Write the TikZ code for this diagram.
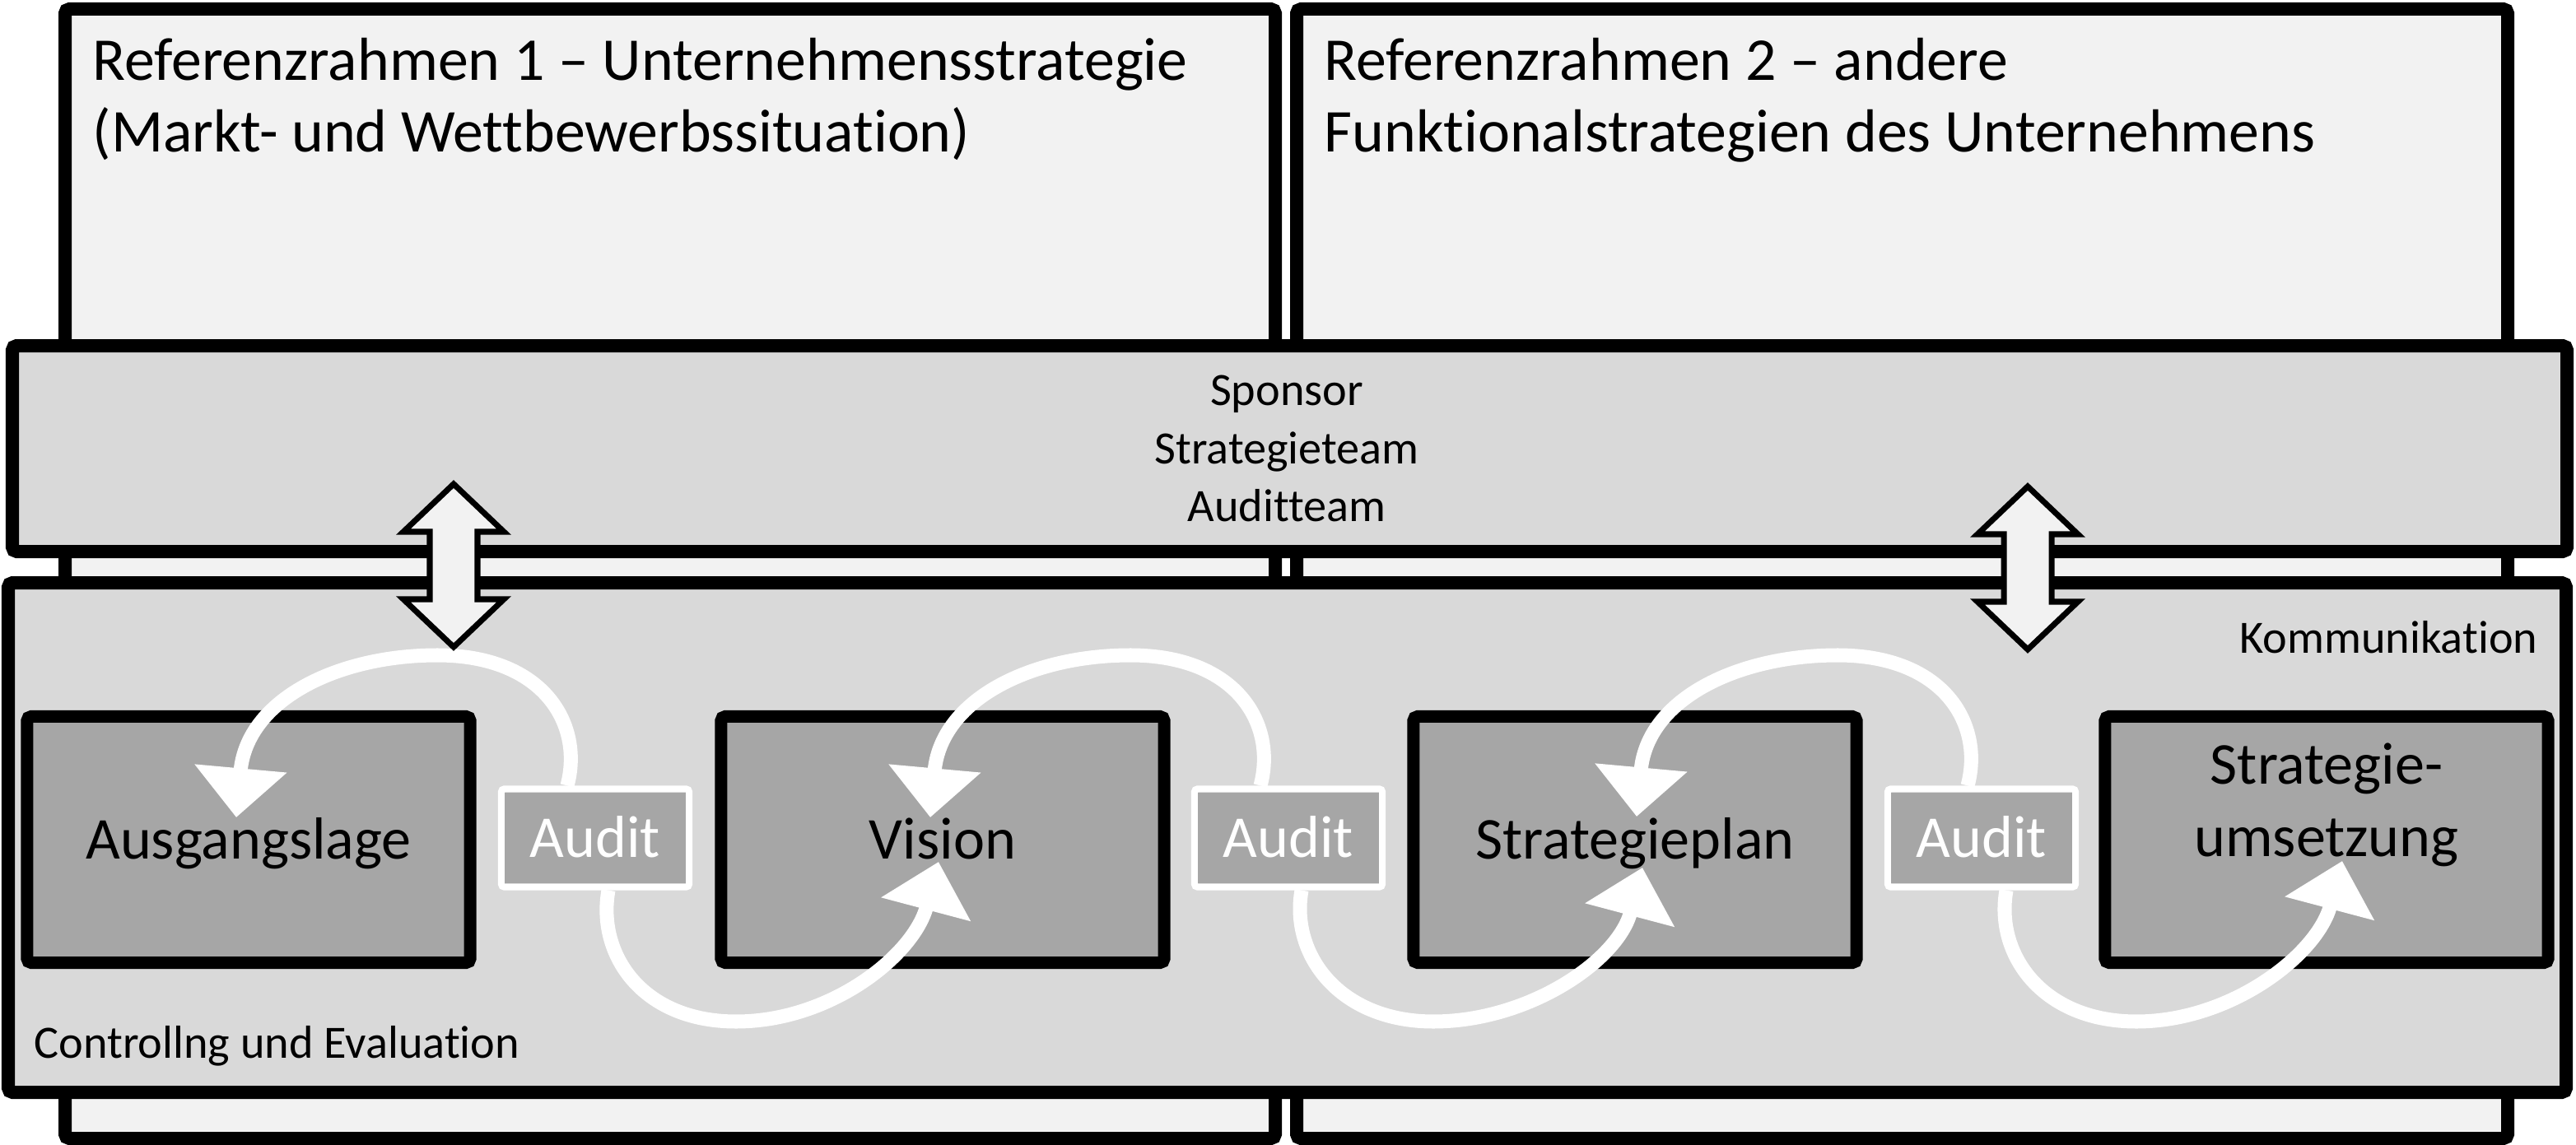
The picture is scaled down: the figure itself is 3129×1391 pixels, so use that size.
\documentclass[tikz,border=0pt]{standalone}
\usepackage{fontspec}
\setmainfont{Carlito}[Ligatures={TeX,NoCommon}]
\usetikzlibrary{arrows.meta}

\definecolor{framefill}{HTML}{F2F2F2}
\definecolor{bandfill}{HTML}{D9D9D9}
\definecolor{stagefill}{HTML}{A6A6A6}

\tikzset{
  refframe/.style={draw=black, line width=4.55pt, fill=framefill, rounded corners=1.5pt},
  teamband/.style={draw=black, line width=4.55pt, fill=bandfill, rounded corners=1.5pt},
  stagebox/.style={draw=black, fill=stagefill, line width=4.27pt, rounded corners=1.5pt,
    minimum width=5.38cm, minimum height=2.99cm, inner sep=0pt,
    font=\fontsize{20.5pt}{25pt}\selectfont, text height=13.2pt, text depth=0pt},
  auditbox/.style={draw=white, fill=stagefill, line width=2.3pt, rounded corners=1pt,
    minimum width=2.28cm, minimum height=1.19cm, inner sep=0pt, text=white,
    font=\fontsize{20.5pt}{25pt}\selectfont, text height=13.2pt, text depth=0pt},
  auditflow/.style={draw=white, line width=4.84pt, line cap=butt,
    -{Triangle[length=17pt,width=31pt]}},
  headtext/.style={font=\fontsize{21pt}{25pt}\selectfont, align=left, inner sep=0pt},
  smalltext/.style={font=\fontsize{16pt}{20pt}\selectfont, inner sep=0pt},
  dblline/.style={draw=black, fill=framefill, line width=2pt, line join=miter},
  updown/.pic={
    \draw[dblline] (0,-99) -- (61,-41) -- (29,-41) -- (29,41) -- (61,41) -- (0,99)
      -- (-61,41) -- (-29,41) -- (-29,-41) -- (-61,-41) -- cycle;
  }
}

\begin{document}
\begin{tikzpicture}[x=0.01cm, y=-0.01cm]
  \useasboundingbox (0,0) rectangle (3129,1391);

  % Reference frames
  \draw[refframe] (79,11) rectangle (1549,1383);
  \draw[refframe] (1575,11) rectangle (3046,1383);
  \node[headtext, anchor=base west] (ref1) at (112,185)
    {Referenzrahmen 1 – Unternehmensstrategie\\(Markt- und Wettbewerbssituation)};
  \node[headtext, anchor=base west] (ref2) at (1608,185)
    {Referenzrahmen 2 – andere\\Funktionalstrategien des Unternehmens};

  % Team band
  \draw[teamband] (15,420) rectangle (3118,670);
  \node[smalltext, align=center] (team) at (1563,545) {Sponsor\\Strategieteam\\Auditteam};

  % Process area
  \draw[teamband] (10,708) rectangle (3117,1327);
  \node[smalltext, anchor=base east] (komm) at (3083,793) {Kommunikation};
  \node[smalltext, anchor=base west] (ctrl) at (41,1285) {Controllng und Evaluation};

  % Stages
  \node[stagebox] (b1) at (302,1020) {Ausgangslage};
  \node[stagebox] (b2) at (1145,1020) {Vision};
  \node[stagebox] (b3) at (1986,1020) {Strategieplan};
  \node[stagebox, align=center, text height=38pt, text depth=26.6pt] (b4) at (2826,1020)
    {Strategie-\\umsetzung};

  % Audits
  \node[auditbox] (a1) at (723,1018) {Audit};
  \node[auditbox] (a2) at (1565,1018) {Audit};
  \node[auditbox] (a3) at (2407,1018) {Audit};

  % Loops back to the stage before
  \draw[auditflow] ([xshift=-0.34cm]a1.north) .. controls +(20,-74) and +(130,0) .. (531,796)
    .. controls +(-121,0) and +(13,-143) .. ([shift={(-15,-27)}]b1.center);
  \draw[auditflow] ([xshift=-0.34cm]a2.north) .. controls +(20,-74) and +(130,0) .. (1373,796)
    .. controls +(-121,0) and +(13,-143) .. ([shift={(-15,-27)}]b2.center);
  \draw[auditflow] ([xshift=-0.17cm]a3.north) .. controls +(20,-74) and +(130,0) .. (2232,796)
    .. controls +(-121,0) and +(13,-143) .. ([shift={(2,-28)}]b3.center);

  % Loops on to the next stage
  \draw[auditflow] ([xshift=0.16cm]a1.south) .. controls +(-14,78) and +(-114,0) .. (894,1241)
    .. controls +(116,0) and +(-30,113) .. ([shift={(-5,27)}]b2.center);
  \draw[auditflow] ([xshift=0.16cm]a2.south) .. controls +(-14,78) and +(-114,0) .. (1741,1241)
    .. controls +(116,0) and +(-30,113) .. ([shift={(9,34)}]b3.center);
  \draw[auditflow] ([xshift=0.30cm]a3.south) .. controls +(-14,78) and +(-114,0) .. (2595,1241)
    .. controls +(116,0) and +(-30,113) .. ([shift={(19,26)}]b4.center);

  % Links between team and process
  \pic (link1) at (551,687) {updown};
  \pic (link2) at (2463,690) {updown};
\end{tikzpicture}
\end{document}
